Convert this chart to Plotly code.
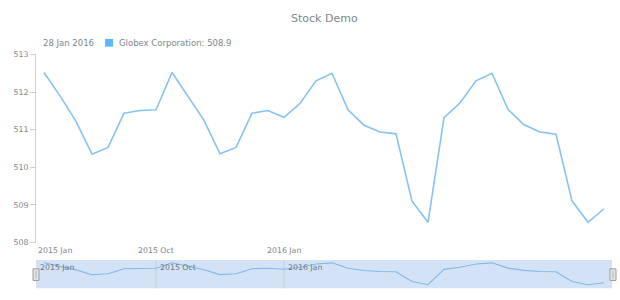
import plotly.graph_objects as go
import pandas as pd

# ---------------- data ----------------
dates = [
    "2015-01-02", "2015-02-09", "2015-03-23", "2015-05-04", "2015-06-15", "2015-07-27", "2015-09-07",
    "2015-10-05", "2015-10-19", "2015-11-02", "2015-11-16", "2015-11-30", "2015-12-07", "2015-12-14", "2015-12-21",
    "2016-01-08", "2016-01-09", "2016-01-10", "2016-01-11", "2016-01-12", "2016-01-13", "2016-01-14",
    "2016-01-15", "2016-01-16", "2016-01-17", "2016-01-18", "2016-01-19", "2016-01-20", "2016-01-21",
    "2016-01-22", "2016-01-23", "2016-01-24", "2016-01-25", "2016-01-26", "2016-01-27", "2016-01-28",
]
values = [
    512.52, 511.90, 511.22, 510.35, 510.53, 511.44, 511.51, 511.53, 512.52, 511.90,
    511.25, 510.36, 510.53, 511.44, 511.51, 511.33, 511.70, 512.30, 512.50, 511.53,
    511.12, 510.94, 510.89, 509.10, 508.54, 511.32, 511.71, 512.30, 512.50, 511.54,
    511.13, 510.94, 510.88, 509.11, 508.54, 508.90,
]
series_name = "Globex Corporation"
tick_months = ["2015-01", "2015-10", "2016-01"]
tick_labels = ["2015 Jan", "2015 Oct", "2016 Jan"]
y_ticks = [508, 509, 510, 511, 512, 513]

# ---------------- style ----------------
W, H = 620, 300
FONT = "DejaVu Sans"
TXT = "#7c868e"
LINE = "#86c3f5"
LEGEND_SQ = "#64b5f6"


def px(x):
    return x / W


def py(y):
    return 1 - y / H


n = len(dates)
months = [d[:7] for d in dates]
tick_idx = [months.index(m) for m in tick_months]
tick_pos = [i if i > 0 else -0.5 for i in tick_idx]

fig = go.Figure()
fig.add_trace(go.Scatter(x=dates, y=values, mode="lines",
                         line=dict(color=LINE, width=1.6),
                         xaxis="x", yaxis="y", hoverinfo="skip", showlegend=False))
fig.add_trace(go.Scatter(x=dates, y=values, mode="lines",
                         line=dict(color="#7fb8ec", width=1.1),
                         xaxis="x2", yaxis="y2", hoverinfo="skip", showlegend=False))

xdom = [px(36), px(612)]
xr = [-0.5, n - 0.5]

shapes = []
annotations = []

# scroller background
shapes.append(dict(type="rect", xref="x2 domain", yref="y2 domain", x0=0, x1=1, y0=0, y1=1,
                   fillcolor="#d3e3f5", line=dict(width=0), layer="below"))
# scroller dividers
for p in tick_pos:
    if p > 0:
        shapes.append(dict(type="line", xref="x2", yref="y2 domain", x0=p, x1=p, y0=0, y1=1,
                           line=dict(color="#c3cdd8", width=1), layer="below"))
# scroller handles
for cx in (36, 613):
    shapes.append(dict(type="rect", xref="paper", yref="paper",
                       x0=px(cx - 3), x1=px(cx + 3), y0=py(285), y1=py(273),
                       fillcolor="#e6e6e6", line=dict(color="#9a9a9a", width=1)))
    shapes.append(dict(type="line", xref="paper", yref="paper",
                       x0=px(cx), x1=px(cx), y0=py(283), y1=py(275),
                       line=dict(color="#b0b0b0", width=1)))

# legend square
shapes.append(dict(type="rect", xref="paper", yref="paper",
                   x0=px(105), x1=px(113), y0=py(44), y1=py(36),
                   fillcolor=LEGEND_SQ, line=dict(width=0)))

# title
annotations.append(dict(text="Stock Demo", xref="paper", yref="paper", x=px(324), y=py(15),
                        xanchor="center", yanchor="middle", showarrow=False,
                        font=dict(family=FONT, size=11, color=TXT)))
# legend text
last_date = pd.Timestamp(dates[-1]).strftime("%d %b %Y").lstrip("0")
annotations.append(dict(text=last_date, xref="paper", yref="paper", x=px(41), y=py(40),
                        xanchor="left", yanchor="middle", showarrow=False,
                        font=dict(family=FONT, size=8.5, color=TXT)))
annotations.append(dict(text=f"{series_name}: {values[-1]:.1f}", xref="paper", yref="paper",
                        x=px(117), y=py(40), xanchor="left", yanchor="middle", showarrow=False,
                        font=dict(family=FONT, size=8.5, color=TXT)))

# main x labels and scroller labels
for p, lab in zip(tick_pos, tick_labels):
    annotations.append(dict(text=lab, xref="x", yref="paper", x=p, y=py(254),
                            xanchor="left" if p < 0 else "center", yanchor="middle",
                            showarrow=False, font=dict(family=FONT, size=7.8, color=TXT)))
    annotations.append(dict(text=lab, xref="x2", yref="paper", x=p, y=py(272),
                            xanchor="left", yanchor="middle", xshift=2,
                            showarrow=False, font=dict(family=FONT, size=7.8, color="#6f767c")))

fig.update_layout(
    width=W, height=H,
    margin=dict(l=0, r=0, t=0, b=0),
    paper_bgcolor="white", plot_bgcolor="rgba(0,0,0,0)",
    font=dict(family=FONT, color=TXT),
    xaxis=dict(domain=xdom, type="category", range=xr, showticklabels=False, showgrid=False,
               zeroline=False, showline=False, ticks="", anchor="y"),
    yaxis=dict(domain=[py(246), py(52)], range=[508, 513], tickvals=y_ticks,
               ticks="outside", ticklen=5, tickcolor="#cfcfcf", showline=True, linecolor="#cfcfcf",
               linewidth=1, showgrid=False, zeroline=False,
               tickfont=dict(family=FONT, size=7.8, color=TXT), anchor="x"),
    xaxis2=dict(domain=xdom, type="category", range=xr, visible=False, anchor="y2"),
    yaxis2=dict(domain=[py(293), py(264)], range=[507.9, 513.0], visible=False, anchor="x2"),
    shapes=shapes, annotations=annotations,
)

fig.write_html("out.html")
